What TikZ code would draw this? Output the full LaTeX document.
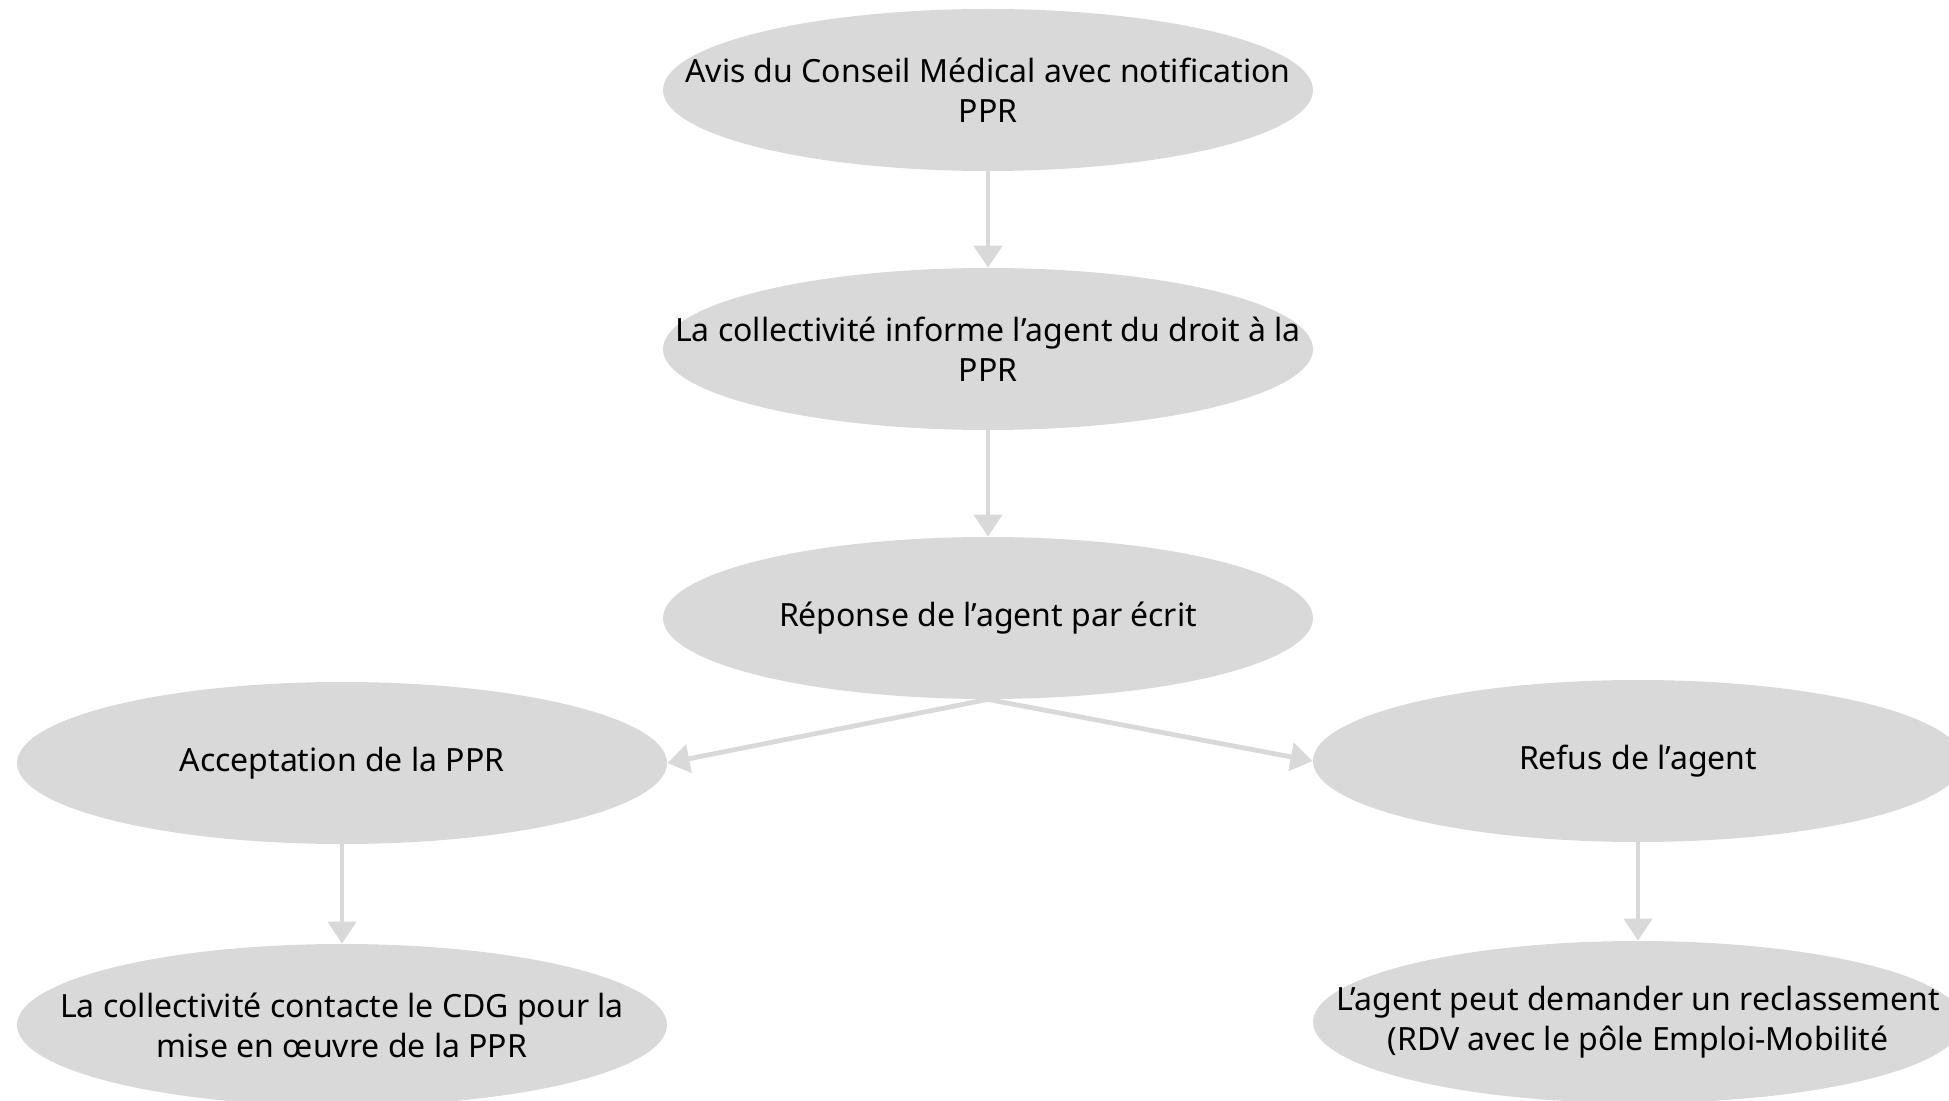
\documentclass[tikz,border=0pt]{standalone}
\usepackage{fontspec}
\setmainfont{Noto Sans}
\usetikzlibrary{shapes.geometric,arrows.meta}
\definecolor{bulle}{HTML}{D9D9D9}
\tikzset{
  etape/.style={ellipse, fill=bulle, minimum width=325pt, minimum height=81pt, inner xsep=-80pt, inner ysep=-25pt, align=center, font=\fontsize{16}{20}\selectfont},
  fleche/.style={draw=bulle, line width=2.4pt, -{Triangle[width=14pt,length=11pt]}}
}
\begin{document}
\begin{tikzpicture}[x=0.5pt,y=-0.5pt]
\useasboundingbox (0,0) rectangle (1949,1101);
\node[etape] at (988,90) (avis) {Avis du Conseil Médical avec notification\\PPR};
\node[etape] at (988,349) (info) {La collectivité informe l’agent du droit à la\\PPR};
\node[etape] at (988,618) (rep) {Réponse de l’agent par écrit};
\node[etape] at (342,763) (acc) {Acceptation de la PPR};
\node[etape] at (1638,761) (ref) {Refus de l’agent};
\node[etape] at (342,1025) (cdg) {La collectivité contacte le CDG pour la\\mise en œuvre de la PPR};
\node[etape] at (1638,1022) (recl) {L’agent peut demander un reclassement\\(RDV avec le pôle Emploi-Mobilité};
\draw[fleche] (avis) -- (info);
\draw[fleche] (info) -- (rep);
\draw[fleche] (rep.south) -- (acc.east);
\draw[fleche] (rep.south) -- (ref.west);
\draw[fleche] (acc) -- (cdg);
\draw[fleche] (ref) -- (recl);
\end{tikzpicture}
\end{document}
